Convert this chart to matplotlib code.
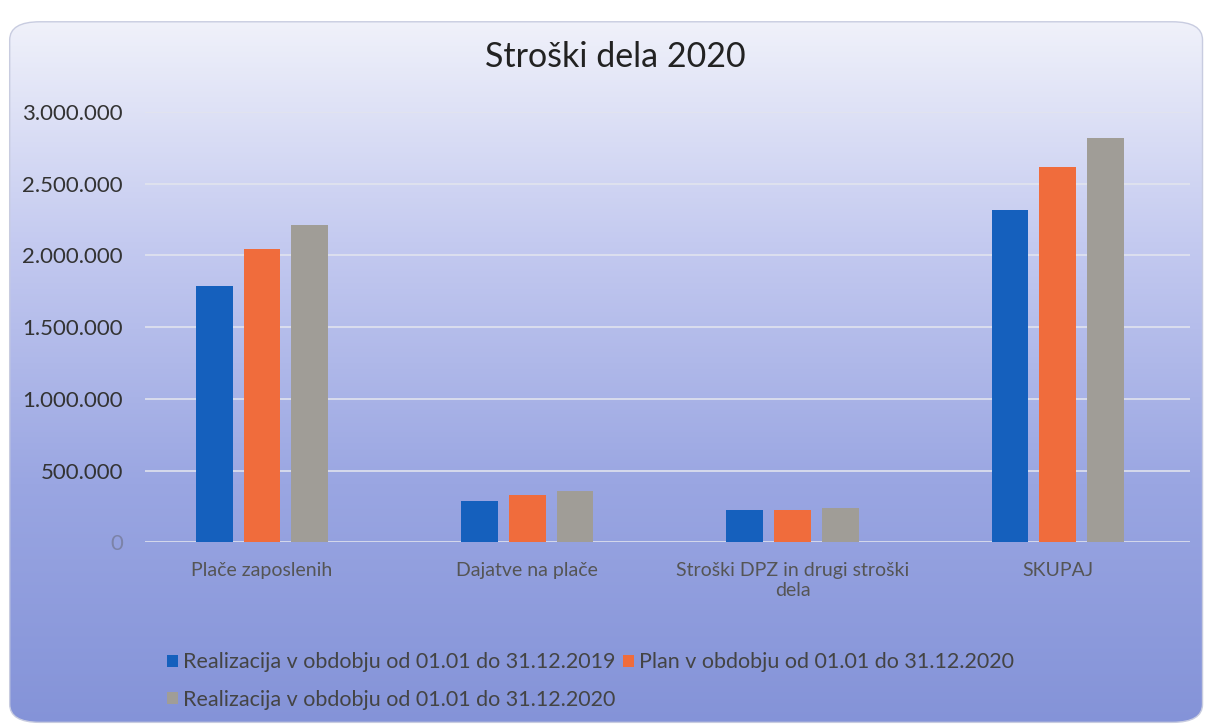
import numpy as np
import matplotlib
matplotlib.use('Agg')
import matplotlib.pyplot as plt
from matplotlib.patches import FancyBboxPatch
from matplotlib.ticker import FuncFormatter

plt.rcParams['font.family'] = ['Lato', 'DejaVu Sans']

# ── Data ──────────────────────────────────────────────────────────────────────
categories = ['Plače zaposlenih', 'Dajatve na plače',
              'Stroški DPZ in drugi stroški\ndela', 'SKUPAJ']
series_labels = ['Realizacija v obdobju od 01.01 do 31.12.2019',
                 'Plan v obdobju od 01.01 do 31.12.2020',
                 'Realizacija v obdobju od 01.01 do 31.12.2020']
real_2019 = [1784000, 286000, 228000, 2313000]
plan_2020 = [2044000, 333000, 228000, 2612000]
real_2020 = [2213000, 360000, 239000, 2816000]
colors = ['#1560bd', '#f06c3c', '#a09d97']

fig = plt.figure(figsize=(12.11, 7.26), dpi=100)

# ── background gradient with rounded frame ─────────────────────────────────────
bg = fig.add_axes([0, 0, 1, 1], zorder=0)
bg.set_axis_off()
grad = np.linspace(0, 1, 256).reshape(-1, 1)
cmap = matplotlib.colors.LinearSegmentedColormap.from_list(
    'bg', ['#f4f5fb', '#c4caf0', '#9aa6e2', '#8493d8'])
im = bg.imshow(grad, aspect='auto', cmap=cmap, extent=[0, 1, 0, 1],
               transform=bg.transAxes)
frame = FancyBboxPatch((0.008, 0.005), 0.985, 0.965,
                       boxstyle='round,pad=0,rounding_size=0.025',
                       transform=bg.transAxes, facecolor='none',
                       edgecolor='#c8cce0', linewidth=1)
bg.add_patch(frame)
im.set_clip_path(frame)
bg.set_xlim(0, 1)
bg.set_ylim(0, 1)

# ── bars ──────────────────────────────────────────────────────────────────────
ax = fig.add_axes([0.12, 0.253, 0.863, 0.593], zorder=1)
ax.patch.set_alpha(0)
x = np.arange(len(categories))
width = 0.138
step = 0.18
for i, (vals, col, lbl) in enumerate(zip([real_2019, plan_2020, real_2020],
                                         colors, series_labels)):
    ax.bar(x + (i - 1) * step, vals, width, color=col, label=lbl, zorder=3)

ax.set_xlim(-0.44, len(categories) - 0.5)
ax.set_ylim(0, 3000000)
ax.set_yticks(np.arange(0, 3000001, 500000))
ax.yaxis.set_major_formatter(FuncFormatter(
    lambda v, p: f'{int(v):,}'.replace(',', '.')))
ax.grid(axis='y', color='#e2e4ee', linewidth=1.3, alpha=0.9, zorder=0)
for s in ax.spines.values():
    s.set_visible(False)
ax.tick_params(axis='both', length=0)
ax.tick_params(axis='y', labelsize=16, labelcolor='#333333', pad=16)
ax.set_xticks(x)
ax.set_xticklabels(categories, fontsize=14, color='#555555')
ax.tick_params(axis='x', pad=14)
ax.get_yticklabels()[0].set_color('#7c83a8')

fig.text(0.508, 0.921, 'Stroški dela 2020', fontsize=24.5, color='#222222',
         ha='center', va='center')

# legend: order so that row 1 = 2019 + plan, row 2 = 2020
h, l = ax.get_legend_handles_labels()
order = [0, 2, 1]
fig.legend([h[k] for k in order], [l[k] for k in order], ncol=2,
           loc='upper left', bbox_to_anchor=(0.122, 0.128), frameon=False,
           fontsize=15.5, labelcolor='#444444', handlelength=0.5,
           handleheight=0.5, handletextpad=0.25, columnspacing=0.35,
           labelspacing=0.8)

fig.savefig('out.png', dpi=100)
